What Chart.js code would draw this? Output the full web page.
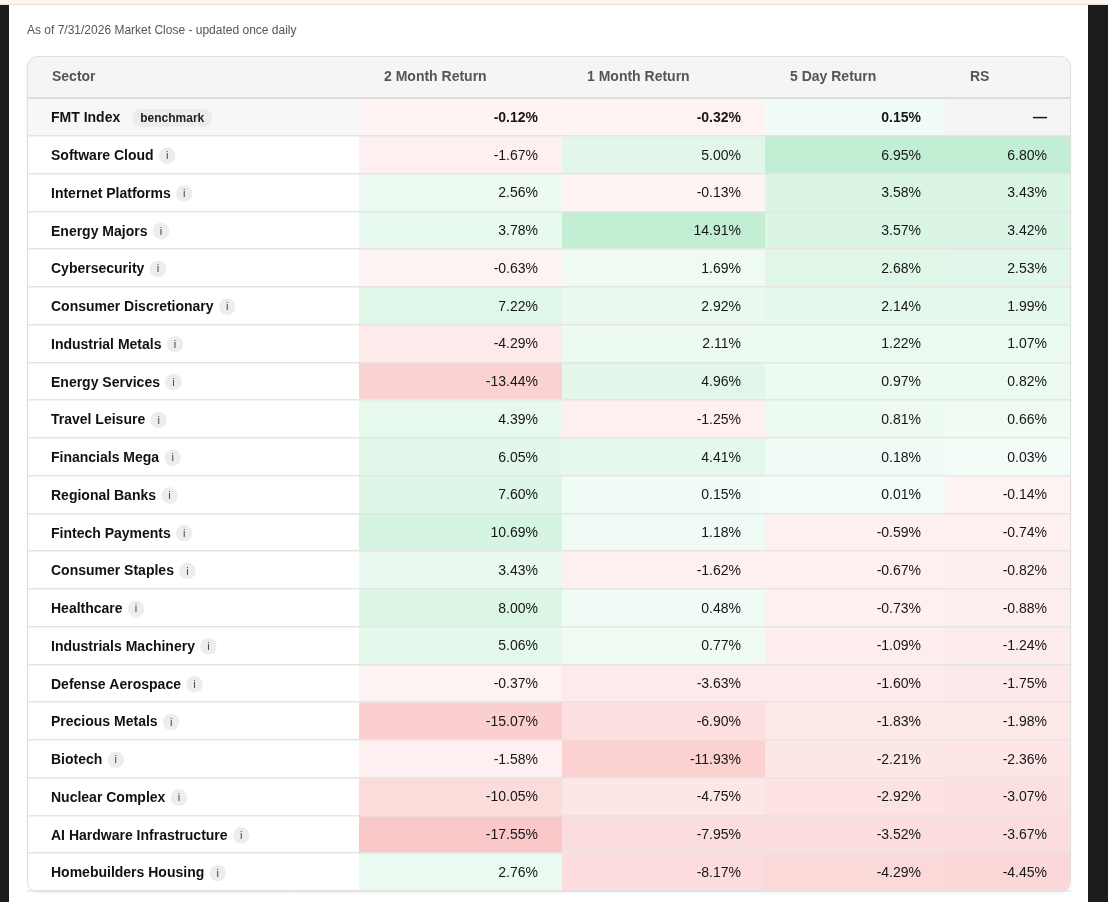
<!DOCTYPE html>
<html>
<head>
<meta charset="utf-8">
<title>Sector Returns</title>
<script src="https://cdn.jsdelivr.net/npm/chart.js@4.4.1/dist/chart.umd.min.js"></script>
<style>
  html, body { margin: 0; padding: 0; background: #fff; }
  #wrap { position: relative; width: 1108px; height: 902px; }
</style>
</head>
<body>
<div id="wrap"><canvas id="sectorChart"></canvas></div>
<script>
const asOfText = 'As of 7/31/2026 Market Close - updated once daily';
const columnHeaders = ['Sector', '2 Month Return', '1 Month Return', '5 Day Return', 'RS'];

const benchmarkName = 'FMT Index';
const benchmarkReturns = [-0.12, -0.32, 0.15, null]; // RS shows a dash

const sectors = [
    'Software Cloud', 'Internet Platforms', 'Energy Majors', 'Cybersecurity',
    'Consumer Discretionary', 'Industrial Metals', 'Energy Services', 'Travel Leisure',
    'Financials Mega', 'Regional Banks', 'Fintech Payments', 'Consumer Staples',
    'Healthcare', 'Industrials Machinery', 'Defense Aerospace', 'Precious Metals',
    'Biotech', 'Nuclear Complex', 'AI Hardware Infrastructure', 'Homebuilders Housing'
];
const return2m = [-1.67, 2.56, 3.78, -0.63, 7.22, -4.29, -13.44, 4.39, 6.05, 7.60,
    10.69, 3.43, 8.00, 5.06, -0.37, -15.07, -1.58, -10.05, -17.55, 2.76];
const return1m = [5.00, -0.13, 14.91, 1.69, 2.92, 2.11, 4.96, -1.25, 4.41, 0.15,
    1.18, -1.62, 0.48, 0.77, -3.63, -6.90, -11.93, -4.75, -7.95, -8.17];
const return5d = [6.95, 3.58, 3.57, 2.68, 2.14, 1.22, 0.97, 0.81, 0.18, 0.01,
    -0.59, -0.67, -0.73, -1.09, -1.60, -1.83, -2.21, -2.92, -3.52, -4.29];
const relStrength = [6.80, 3.43, 3.42, 2.53, 1.99, 1.07, 0.82, 0.66, 0.03, -0.14,
    -0.74, -0.82, -0.88, -1.24, -1.75, -1.98, -2.36, -3.07, -3.67, -4.45];

// layout (in x-scale units, 1 unit = 1px of table width)
const colEdges = [0, 332, 535, 738, 918, 1044];
const CELL_PAD = 24;
const FONT = "'Liberation Sans', Arial, sans-serif";

const rows = [benchmarkName, ...sectors];
const valueCols = [return2m, return1m, return5d, relStrength].map((col, c) => [benchmarkReturns[c], ...col]);
const colMax = valueCols.map(col => Math.max(...col.filter(v => v !== null).map(Math.abs)));

function cellColor(v, maxAbs) {
    if (v === null) return '#f5f5f5';
    const t = Math.min(Math.abs(v) / maxAbs, 1);
    if (v >= 0) return 'rgba(34,197,94,' + (0.055 + 0.22 * t).toFixed(3) + ')';
    return 'rgba(239,68,68,' + (0.058 + 0.235 * t).toFixed(3) + ')';
}

function formatValue(v) {
    return v === null ? '\u2014' : v.toFixed(2) + '%';
}

function cardPath(ctx, area, top) {
    ctx.beginPath();
    ctx.roundRect(area.left + 0.5, top + 0.5, area.right - area.left - 1, area.bottom - top, 10);
}

const datasets = columnHeaders.map((h, c) => ({
    label: h,
    data: rows.map(() => [colEdges[c], colEdges[c + 1]]),
    backgroundColor: c === 0
        ? rows.map((r, i) => i === 0 ? '#f7f7f7' : '#ffffff')
        : valueCols[c - 1].map(v => cellColor(v, colMax[c - 1])),
    borderWidth: 0,
    inflateAmount: 0,
    grouped: false,
    barPercentage: 1,
    categoryPercentage: 1
}));

const tablePlugin = {
    id: 'tableDecor',
    beforeDraw(chart) {
        const { ctx, width, height, chartArea } = chart;
        const headTop = chart.scales.x.top;
        ctx.save();
        ctx.fillStyle = '#ffffff';
        ctx.fillRect(0, 0, width, height);
        // page edges
        ctx.fillStyle = '#1c1c1c';
        ctx.fillRect(0, 5, 9, height - 5);
        ctx.fillRect(1088, 5, width - 1088, height - 5);
        ctx.fillStyle = '#fdf4ee';
        ctx.fillRect(0, 0, width, 4.5);
        ctx.fillStyle = '#f6dccb';
        ctx.fillRect(0, 4, width, 1);
        // card
        ctx.shadowColor = 'rgba(0,0,0,0.08)';
        ctx.shadowBlur = 3;
        ctx.shadowOffsetY = 1;
        cardPath(ctx, chartArea, headTop);
        ctx.fillStyle = '#ffffff';
        ctx.fill();
        ctx.shadowColor = 'transparent';
        // header band
        ctx.beginPath();
        ctx.roundRect(chartArea.left + 0.5, headTop + 0.5, chartArea.right - chartArea.left - 1, chartArea.top - headTop, [10, 10, 0, 0]);
        ctx.fillStyle = '#f5f5f5';
        ctx.fill();
        ctx.restore();
    },
    beforeDatasetsDraw(chart) {
        const { ctx, chartArea } = chart;
        ctx.save();
        cardPath(ctx, chartArea, chart.scales.x.top);
        ctx.clip();
    },
    afterDatasetsDraw(chart) {
        const { ctx } = chart;
        ctx.restore();
        ctx.save();
        ctx.textAlign = 'right';
        ctx.textBaseline = 'middle';
        ctx.fillStyle = '#161616';
        chart.data.datasets.forEach((ds, c) => {
            if (c === 0) return;
            chart.getDatasetMeta(c).data.forEach((bar, i) => {
                ctx.font = (i === 0 ? 'bold ' : '') + '14px ' + FONT;
                const right = Math.max(bar.x, bar.base);
                ctx.fillText(formatValue(valueCols[c - 1][i]), right - CELL_PAD, bar.y + 1);
            });
        });
        ctx.restore();
    },
    afterDraw(chart) {
        const { ctx, chartArea } = chart;
        const y = chart.scales.y;
        ctx.save();
        // header underline
        ctx.fillStyle = '#dedede';
        ctx.fillRect(chartArea.left, chartArea.top - 1, chartArea.right - chartArea.left, 2);
        // badges after the sector names
        rows.forEach((name, i) => {
            ctx.font = 'bold 14px ' + FONT;
            const cy = y.getPixelForValue(i) + 1;
            const end = y.right + CELL_PAD + ctx.measureText(name).width;
            if (i === 0) {
                ctx.font = 'bold 12px ' + FONT;
                const w = ctx.measureText('benchmark').width + 16;
                ctx.beginPath();
                ctx.roundRect(end + 12, cy - 9, w, 18, 9);
                ctx.fillStyle = '#ececec';
                ctx.fill();
                ctx.fillStyle = '#222';
                ctx.textAlign = 'left';
                ctx.textBaseline = 'middle';
                ctx.fillText('benchmark', end + 20, cy + 0.5);
            } else {
                const cx = end + 5 + 8.5;
                ctx.beginPath();
                ctx.arc(cx, cy, 8.3, 0, Math.PI * 2);
                ctx.fillStyle = '#ededed';
                ctx.fill();
                ctx.font = '11px ' + FONT;
                ctx.fillStyle = '#444';
                ctx.textAlign = 'center';
                ctx.textBaseline = 'middle';
                ctx.fillText('i', cx, cy + 0.5);
            }
        });
        // card border
        ctx.strokeStyle = '#e0e0e0';
        ctx.lineWidth = 1;
        cardPath(ctx, chartArea, chart.scales.x.top);
        ctx.stroke();
        ctx.restore();
    }
};

new Chart(document.getElementById('sectorChart'), {
    type: 'bar',
    data: { labels: rows, datasets },
    options: {
        indexAxis: 'y',
        responsive: true,
        maintainAspectRatio: false,
        animation: false,
        events: [],
        layout: { padding: { left: 27, right: 37, top: 4, bottom: 11 } },
        plugins: {
            legend: { display: false },
            tooltip: { enabled: false },
            title: {
                display: true,
                text: asOfText,
                align: 'start',
                color: '#555',
                font: { family: FONT, size: 12, weight: 'normal' },
                padding: { top: 19, bottom: 18.6 }
            }
        },
        scales: {
            x: {
                type: 'linear',
                position: 'top',
                min: colEdges[0],
                max: colEdges[colEdges.length - 1],
                grid: { display: false, drawTicks: false },
                border: { display: false },
                afterBuildTicks: scale => {
                    scale.ticks = colEdges.slice(0, -1).map(e => ({ value: e + CELL_PAD + 1 }));
                },
                afterFit: scale => { scale.height = 42; },
                ticks: {
                    align: 'start',
                    autoSkip: false,
                    maxRotation: 0,
                    padding: 12,
                    color: '#555',
                    font: { family: FONT, size: 14, weight: 'bold' },
                    callback: (v, i) => columnHeaders[i]
                }
            },
            y: {
                type: 'category',
                afterFit: scale => {
                    scale.width = 0;
                    scale.paddingTop = 0;
                    scale.paddingBottom = 0;
                },
                grid: { display: true, offset: true, drawTicks: false, color: '#e5e5e5', lineWidth: 1.5, z: 1 },
                border: { display: false },
                ticks: {
                    mirror: true,
                    padding: CELL_PAD,
                    labelOffset: 1.5,
                    autoSkip: false,
                    color: '#111',
                    z: 1,
                    font: { family: FONT, size: 14, weight: 'bold' }
                }
            }
        }
    },
    plugins: [tablePlugin]
});
</script>
</body>
</html>
